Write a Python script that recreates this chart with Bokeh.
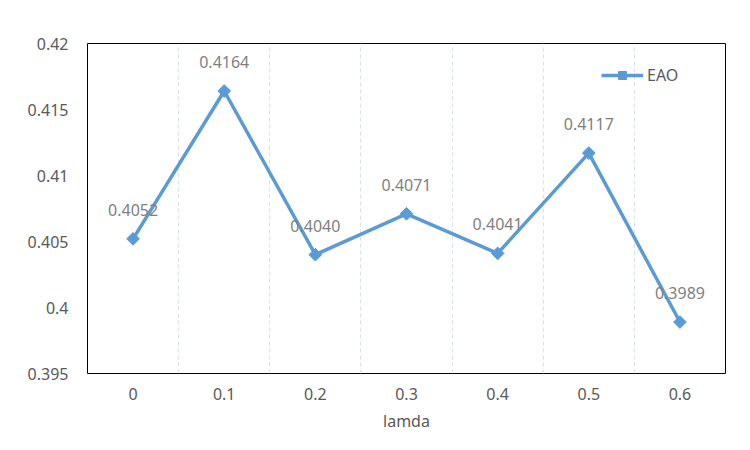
from bokeh.plotting import figure
from bokeh.models import ColumnDataSource, Range1d, FixedTicker, Legend, LegendItem
from bokeh.embed import file_html
from bokeh.resources import INLINE
from bokeh.core.properties import value

categories = ["0", "0.1", "0.2", "0.3", "0.4", "0.5", "0.6"]
eao = [0.4052, 0.4164, 0.4040, 0.4071, 0.4041, 0.4117, 0.3989]
y_ticks = [0.395, 0.4, 0.405, 0.41, 0.415, 0.42]
y_tick_labels = ["0.395", "0.4", "0.405", "0.41", "0.415", "0.42"]

FONT = "Noto Sans"
BLUE = "#5B9BD5"
GRAY = "#595959"

xs = list(range(len(categories)))
src = ColumnDataSource(dict(x=xs, y=eao, lab=[f"{v:.4f}" for v in eao]))

p = figure(width=734, height=434, output_backend="svg", toolbar_location=None,
           x_range=Range1d(-0.5, len(categories) - 0.5), y_range=Range1d(0.395, 0.42),
           min_border_left=87, min_border_right=9, min_border_top=43, min_border_bottom=59)
p.outline_line_color = "black"
p.outline_line_width = 1

p.xaxis.ticker = FixedTicker(ticks=xs)
p.xaxis.major_label_overrides = {i: c for i, c in enumerate(categories)}
p.yaxis.ticker = FixedTicker(ticks=y_ticks)
p.yaxis.major_label_overrides = {t: l for t, l in zip(y_ticks, y_tick_labels)}
for ax in (p.xaxis[0], p.yaxis[0]):
    ax.axis_line_color = None
    ax.major_tick_line_color = None
    ax.minor_tick_line_color = None
    ax.major_label_text_font = FONT
    ax.major_label_text_font_size = "16px"
    ax.major_label_text_color = GRAY
p.xaxis.major_label_standoff = 8
p.yaxis.major_label_standoff = 13
p.xaxis.axis_label = "lamda"
p.xaxis.axis_label_text_font = FONT
p.xaxis.axis_label_text_font_size = "16px"
p.xaxis.axis_label_text_font_style = "normal"
p.xaxis.axis_label_text_color = GRAY
p.xaxis.axis_label_standoff = 7

p.ygrid.grid_line_color = None
p.xgrid.ticker = FixedTicker(ticks=[i + 0.5 for i in xs[:-1]])
p.xgrid.grid_line_color = "#D9E1EA"
p.xgrid.grid_line_dash = "4 3"
p.xgrid.grid_line_width = 1

ln = p.line("x", "y", source=src, line_color=BLUE, line_width=3.5)
mk = p.scatter("x", "y", source=src, marker="square", angle=0.785398, size=9,
               fill_color=BLUE, line_color=BLUE)
p.text("x", "y", text="lab", source=src, text_align="center", text_baseline="bottom",
       y_offset=-23, text_font=value(FONT), text_font_size="16px", text_color="#7F7F7F")

legend = Legend(items=[LegendItem(label="EAO", renderers=[ln, mk])],
                location=(514, 287), background_fill_alpha=0, border_line_color=None,
                label_text_font=FONT, label_text_font_size="16px", label_text_color=GRAY,
                glyph_width=42, label_standoff=4, padding=6)
p.add_layout(legend)

open("out.html", "w").write(file_html(p, INLINE))
